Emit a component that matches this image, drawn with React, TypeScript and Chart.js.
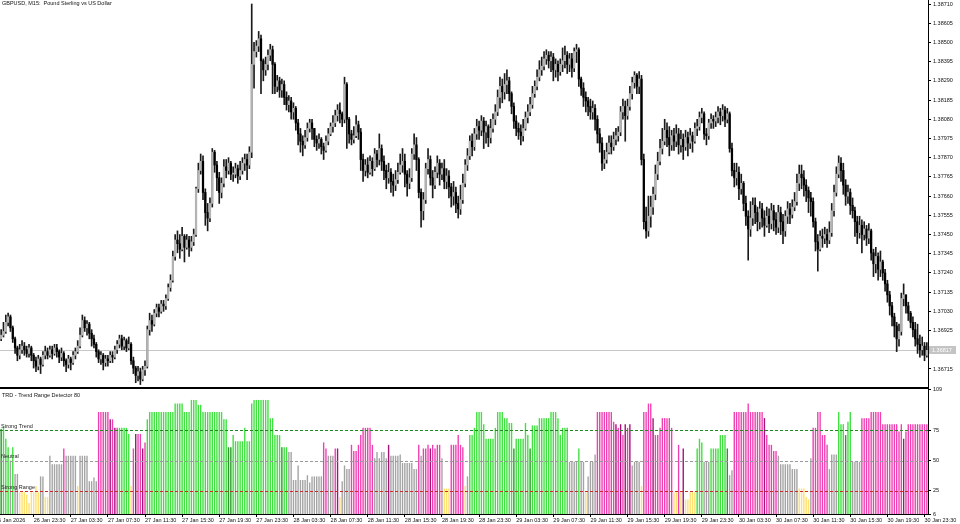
import React, { useEffect, useRef } from "react";
import { Chart, registerables } from "chart.js";

Chart.register(...registerables);

// ---------- DATA ----------
const SYMBOL_TITLE = "GBPUSD, M15:  Pound Sterling vs US Dollar";
const INDICATOR_TITLE = "TRD - Trend Range Detector 80";

const FIRST_OPEN = 1.3688;

const CLOSE = [
  1.3690,1.3692,1.3697,1.3700,1.3694,1.3688,1.3683,1.3679,1.3682,1.3684,
  1.3682,1.3680,1.3683,1.3679,1.3676,1.3673,1.3677,1.3674,1.3679,1.3681,
  1.3679,1.3682,1.3680,1.3683,1.3681,1.3678,1.3680,1.3676,1.3674,1.3677,
  1.3675,1.3679,1.3681,1.3684,1.3690,1.3698,1.3694,1.3696,1.3691,1.3688,
  1.3685,1.3681,1.3677,1.3679,1.3675,1.3677,1.3676,1.3679,1.3678,1.3682,
  1.3685,1.3688,1.3684,1.3687,1.3683,1.3685,1.3676,1.3672,1.3668,1.3670,
  1.3666,1.3671,1.3673,1.3693,1.3698,1.3696,1.3702,1.3705,1.3703,1.3707,
  1.3706,1.3710,1.3716,1.3720,1.3733,1.3742,1.3740,1.3737,1.3744,1.3738,
  1.3742,1.3738,1.3741,1.3745,1.3770,1.3780,1.3785,1.3768,1.3757,1.3754,
  1.3762,1.3790,1.3783,1.3776,1.3768,1.3773,1.3782,1.3780,1.3784,1.3778,
  1.3778,1.3781,1.3777,1.3780,1.3784,1.3786,1.3783,1.3790,1.3838,1.3845,
  1.3848,1.3852,1.3840,1.3835,1.3838,1.3843,1.3846,1.3838,1.3826,1.3829,
  1.3824,1.3827,1.3820,1.3816,1.3818,1.3812,1.3814,1.3806,1.3800,1.3796,
  1.3794,1.3798,1.3803,1.3806,1.3803,1.3797,1.3795,1.3797,1.3793,1.3791,
  1.3796,1.3800,1.3804,1.3806,1.3810,1.3813,1.3811,1.3808,1.3827,1.3808,
  1.3800,1.3797,1.3799,1.3805,1.3801,1.3786,1.3780,1.3783,1.3779,1.3785,
  1.3781,1.3789,1.3786,1.3792,1.3785,1.3780,1.3776,1.3779,1.3774,1.3772,
  1.3775,1.3779,1.3783,1.3785,1.3778,1.3773,1.3776,1.3789,1.3794,1.3786,
  1.3768,1.3758,1.3764,1.3781,1.3786,1.3776,1.3772,1.3779,1.3784,1.3778,
  1.3781,1.3774,1.3777,1.3771,1.3766,1.3768,1.3762,1.3759,1.3764,1.3773,
  1.3783,1.3788,1.3796,1.3793,1.3800,1.3804,1.3802,1.3807,1.3801,1.3804,
  1.3798,1.3803,1.3808,1.3812,1.3820,1.3826,1.3823,1.3827,1.3829,1.3822,
  1.3815,1.3807,1.3803,1.3801,1.3799,1.3803,1.3809,1.3812,1.3816,1.3822,
  1.3826,1.3831,1.3835,1.3837,1.3841,1.3843,1.3840,1.3842,1.3835,1.3838,
  1.3834,1.3838,1.3840,1.3843,1.3838,1.3841,1.3836,1.3845,1.3846,1.3830,
  1.3825,1.3820,1.3818,1.3815,1.3812,1.3814,1.3808,1.3800,1.3795,1.3784,
  1.3786,1.3790,1.3795,1.3793,1.3797,1.3799,1.3801,1.3812,1.3815,1.3810,
  1.3815,1.3822,1.3828,1.3832,1.3826,1.3830,1.3786,1.3752,1.3747,1.3755,
  1.3760,1.3767,1.3778,1.3785,1.3792,1.3796,1.3802,1.3798,1.3794,1.3799,
  1.3796,1.3800,1.3794,1.3797,1.3793,1.3798,1.3795,1.3799,1.3796,1.3803,
  1.3804,1.3809,1.3811,1.3800,1.3799,1.3806,1.3808,1.3807,1.3809,1.3812,
  1.3810,1.3813,1.3808,1.3811,1.3792,1.3780,1.3776,1.3779,1.3770,1.3773,
  1.3762,1.3755,1.3748,1.3754,1.3761,1.3757,1.3752,1.3759,1.3754,1.3750,
  1.3755,1.3751,1.3758,1.3753,1.3749,1.3757,1.3752,1.3747,1.3755,1.3759,
  1.3756,1.3760,1.3763,1.3773,1.3778,1.3776,1.3772,1.3769,1.3765,1.3763,
  1.3752,1.3741,1.3737,1.3744,1.3743,1.3745,1.3742,1.3746,1.3758,1.3768,
  1.3778,1.3784,1.3780,1.3772,1.3766,1.3768,1.3761,1.3758,1.3752,1.3746,
  1.3750,1.3745,1.3748,1.3743,1.3747,1.3735,1.3729,1.3733,1.3726,1.3730,
  1.3724,1.3718,1.3712,1.3706,1.3700,1.3695,1.3688,1.3692,1.3710,1.3712,
  1.3706,1.3702,1.3697,1.3693,1.3688,1.3685,1.3682,1.3684,1.3679,1.36817,
];

const HIGH = [
  1.3693,1.3697,1.3701,1.3702,1.3701,1.3695,1.3689,1.3684,1.3685,1.3687,
  1.3686,1.3684,1.3685,1.3684,1.3680,1.3678,1.3679,1.3678,1.3681,1.3684,
  1.3683,1.3684,1.3684,1.3685,1.3685,1.3682,1.3683,1.3681,1.3677,1.3679,
  1.3678,1.3681,1.3683,1.3687,1.3694,1.3701,1.3700,1.3698,1.3697,1.3693,
  1.3690,1.3686,1.3682,1.3681,1.3680,1.3679,1.3679,1.3681,1.3681,1.3684,
  1.3687,1.3690,1.3690,1.3689,1.3688,1.3689,1.3686,1.3678,1.3673,1.3673,
  1.3672,1.3673,1.3676,1.3695,1.3702,1.3701,1.3704,1.3707,1.3707,1.3709,
  1.3709,1.3712,1.3718,1.3723,1.3736,1.3745,1.3747,1.3745,1.3749,1.3745,
  1.3745,1.3744,1.3744,1.3748,1.3771,1.3784,1.3789,1.3788,1.3770,1.3762,
  1.3765,1.3792,1.3791,1.3785,1.3779,1.3776,1.3786,1.3786,1.3787,1.3785,
  1.3782,1.3784,1.3783,1.3785,1.3787,1.3789,1.3789,1.3793,1.3871,1.3850,
  1.3851,1.3856,1.3854,1.3841,1.3842,1.3846,1.3849,1.3848,1.3839,1.3832,
  1.3831,1.3830,1.3829,1.3823,1.3821,1.3820,1.3817,1.3815,1.3808,1.3803,
  1.3799,1.3802,1.3806,1.3808,1.3808,1.3803,1.3799,1.3800,1.3798,1.3795,
  1.3799,1.3803,1.3806,1.3810,1.3813,1.3816,1.3817,1.3812,1.3831,1.3828,
  1.3809,1.3802,1.3804,1.3810,1.3807,1.3803,1.3789,1.3786,1.3787,1.3788,
  1.3787,1.3792,1.3791,1.3800,1.3794,1.3788,1.3783,1.3784,1.3781,1.3778,
  1.3780,1.3784,1.3789,1.3792,1.3789,1.3780,1.3781,1.3792,1.3800,1.3798,
  1.3787,1.3770,1.3768,1.3784,1.3792,1.3788,1.3780,1.3782,1.3788,1.3786,
  1.3784,1.3786,1.3781,1.3780,1.3773,1.3774,1.3771,1.3766,1.3772,1.3778,
  1.3786,1.3792,1.3799,1.3800,1.3803,1.3808,1.3807,1.3810,1.3809,1.3807,
  1.3805,1.3808,1.3811,1.3816,1.3824,1.3831,1.3830,1.3833,1.3835,1.3831,
  1.3823,1.3817,1.3810,1.3806,1.3805,1.3808,1.3812,1.3816,1.3820,1.3826,
  1.3829,1.3835,1.3840,1.3842,1.3845,1.3846,1.3845,1.3845,1.3844,1.3841,
  1.3840,1.3841,1.3847,1.3848,1.3845,1.3844,1.3844,1.3847,1.3849,1.3847,
  1.3831,1.3828,1.3823,1.3820,1.3819,1.3818,1.3816,1.3810,1.3803,1.3798,
  1.3791,1.3795,1.3799,1.3799,1.3801,1.3803,1.3804,1.3815,1.3819,1.3818,
  1.3819,1.3826,1.3831,1.3834,1.3833,1.3834,1.3832,1.3789,1.3760,1.3766,
  1.3766,1.3771,1.3783,1.3790,1.3797,1.3803,1.3808,1.3806,1.3804,1.3802,
  1.3803,1.3805,1.3803,1.3802,1.3800,1.3802,1.3801,1.3803,1.3801,1.3806,
  1.3808,1.3812,1.3814,1.3812,1.3803,1.3808,1.3811,1.3810,1.3812,1.3815,
  1.3814,1.3816,1.3815,1.3814,1.3812,1.3795,1.3784,1.3784,1.3782,1.3778,
  1.3774,1.3766,1.3758,1.3763,1.3765,1.3765,1.3760,1.3763,1.3762,1.3758,
  1.3760,1.3759,1.3762,1.3761,1.3757,1.3761,1.3760,1.3756,1.3758,1.3763,
  1.3762,1.3764,1.3768,1.3778,1.3783,1.3783,1.3780,1.3775,1.3771,1.3768,
  1.3765,1.3754,1.3745,1.3747,1.3748,1.3749,1.3748,1.3752,1.3762,1.3772,
  1.3782,1.3788,1.3787,1.3784,1.3775,1.3772,1.3770,1.3765,1.3760,1.3755,
  1.3755,1.3753,1.3752,1.3750,1.3751,1.3748,1.3737,1.3738,1.3735,1.3736,
  1.3731,1.3726,1.3720,1.3714,1.3708,1.3702,1.3697,1.3696,1.3713,1.3718,
  1.3712,1.3708,1.3703,1.3700,1.3697,1.3696,1.3690,1.3689,1.3686,1.3686,
];

const LOW = [
  1.3687,1.3689,1.3691,1.3695,1.3692,1.3686,1.3680,1.3676,1.3677,1.3680,
  1.3679,1.3678,1.3678,1.3676,1.3672,1.3670,1.3671,1.3669,1.3673,1.3677,
  1.3677,1.3678,1.3677,1.3679,1.3678,1.3675,1.3676,1.3673,1.3670,1.3672,
  1.3671,1.3674,1.3677,1.3680,1.3683,1.3689,1.3692,1.3690,1.3688,1.3684,
  1.3683,1.3678,1.3675,1.3674,1.3671,1.3673,1.3673,1.3675,1.3675,1.3677,
  1.3680,1.3683,1.3682,1.3682,1.3681,1.3682,1.3674,1.3669,1.3664,1.3665,
  1.3663,1.3665,1.3668,1.3672,1.3690,1.3692,1.3695,1.3700,1.3700,1.3702,
  1.3703,1.3704,1.3709,1.3714,1.3719,1.3731,1.3735,1.3732,1.3736,1.3730,
  1.3737,1.3733,1.3736,1.3739,1.3744,1.3768,1.3778,1.3764,1.3750,1.3747,
  1.3752,1.3760,1.3779,1.3769,1.3762,1.3765,1.3771,1.3776,1.3778,1.3775,
  1.3774,1.3776,1.3773,1.3775,1.3778,1.3780,1.3775,1.3781,1.3787,1.3825,
  1.3842,1.3845,1.3822,1.3829,1.3832,1.3835,1.3840,1.3822,1.3822,1.3823,
  1.3820,1.3820,1.3816,1.3813,1.3812,1.3808,1.3808,1.3802,1.3794,1.3790,
  1.3788,1.3792,1.3796,1.3801,1.3797,1.3793,1.3791,1.3792,1.3789,1.3786,
  1.3790,1.3794,1.3799,1.3801,1.3804,1.3807,1.3806,1.3804,1.3806,1.3792,
  1.3795,1.3794,1.3795,1.3798,1.3797,1.3780,1.3774,1.3777,1.3776,1.3778,
  1.3777,1.3780,1.3782,1.3783,1.3780,1.3775,1.3770,1.3773,1.3768,1.3766,
  1.3769,1.3773,1.3778,1.3779,1.3771,1.3766,1.3770,1.3774,1.3786,1.3780,
  1.3765,1.3749,1.3753,1.3762,1.3778,1.3772,1.3765,1.3770,1.3776,1.3772,
  1.3775,1.3770,1.3770,1.3765,1.3760,1.3761,1.3757,1.3754,1.3756,1.3762,
  1.3771,1.3780,1.3786,1.3788,1.3791,1.3797,1.3797,1.3799,1.3792,1.3795,
  1.3793,1.3795,1.3801,1.3805,1.3810,1.3814,1.3817,1.3819,1.3822,1.3818,
  1.3811,1.3803,1.3799,1.3797,1.3794,1.3796,1.3802,1.3806,1.3810,1.3814,
  1.3820,1.3824,1.3829,1.3832,1.3835,1.3838,1.3836,1.3834,1.3829,1.3831,
  1.3829,1.3832,1.3834,1.3836,1.3833,1.3834,1.3831,1.3834,1.3839,1.3826,
  1.3821,1.3815,1.3812,1.3810,1.3808,1.3808,1.3802,1.3795,1.3790,1.3780,
  1.3781,1.3784,1.3789,1.3789,1.3791,1.3794,1.3796,1.3799,1.3808,1.3796,
  1.3808,1.3813,1.3819,1.3825,1.3822,1.3822,1.3783,1.3748,1.3743,1.3744,
  1.3749,1.3756,1.3764,1.3775,1.3783,1.3789,1.3794,1.3793,1.3788,1.3791,
  1.3791,1.3793,1.3789,1.3790,1.3786,1.3791,1.3788,1.3792,1.3790,1.3795,
  1.3799,1.3802,1.3806,1.3797,1.3794,1.3797,1.3803,1.3803,1.3804,1.3806,
  1.3805,1.3807,1.3804,1.3806,1.3790,1.3777,1.3771,1.3772,1.3764,1.3767,
  1.3758,1.3750,1.3731,1.3744,1.3750,1.3751,1.3747,1.3748,1.3749,1.3744,
  1.3749,1.3746,1.3748,1.3747,1.3745,1.3746,1.3745,1.3740,1.3744,1.3751,
  1.3751,1.3754,1.3758,1.3761,1.3769,1.3770,1.3766,1.3763,1.3757,1.3755,
  1.3749,1.3736,1.3725,1.3736,1.3738,1.3740,1.3738,1.3740,1.3744,1.3755,
  1.3766,1.3776,1.3774,1.3767,1.3761,1.3762,1.3756,1.3754,1.3744,1.3740,
  1.3743,1.3735,1.3742,1.3739,1.3740,1.3731,1.3722,1.3724,1.3720,1.3722,
  1.3720,1.3714,1.3708,1.3701,1.3695,1.3689,1.3681,1.3684,1.3690,1.3706,
  1.3702,1.3698,1.3694,1.3689,1.3684,1.3680,1.3678,1.3679,1.3676,1.3678,
];

const TRD_VALUE = [
  76,78,68,61,50,61,39,39,24,24, 24,22,15,24,24,29,24,37,37,20,
  20,54,47,47,47,47,47,60,54,54, 54,54,54,29,54,54,54,54,33,33,
  36,33,90,90,90,90,90,84,84,77, 77,77,77,77,77,72,29,60,72,72,
  72,60,65,84,90,90,90,90,90,90, 90,90,90,90,90,97,97,97,97,90,
  90,90,100,100,100,96,96,90,90,90, 90,90,90,90,90,90,84,84,61,61,
  71,66,66,66,66,77,66,66,97,100, 100,100,100,100,100,100,85,85,71,71,
  71,61,61,61,57,57,34,34,46,34, 34,34,38,32,37,37,37,37,37,65,
  60,54,54,54,60,60,20,33,46,43, 43,63,58,58,63,71,77,77,77,77,
  63,52,57,52,57,57,52,63,54,54, 54,54,55,48,48,48,48,48,43,43,
  63,54,60,60,63,60,63,60,63,63, 52,27,27,27,63,63,63,71,63,61,
  29,37,71,71,77,90,90,90,80,68, 68,68,68,77,90,90,90,85,85,81,
  81,60,68,68,68,68,81,71,60,79, 79,79,85,85,85,85,85,90,90,90,
  85,71,77,77,77,49,49,49,49,60, 49,49,24,37,49,49,55,90,90,90,
  90,90,90,90,82,80,77,80,71,80, 77,80,46,49,49,49,29,90,90,97,
  97,85,71,71,77,85,85,85,85,77, 24,24,63,24,60,18,18,24,24,24,
  60,68,65,49,49,49,60,60,60,60, 71,71,71,60,38,42,90,90,90,90,
  90,90,97,90,90,90,90,90,90,85, 71,63,63,58,58,54,47,47,47,47,
  47,43,43,43,27,27,27,20,18,52, 77,77,90,90,71,71,63,43,55,55,
  55,90,80,80,71,82,90,49,49,49, 49,85,85,85,85,90,90,90,90,90,
  80,80,80,80,80,80,80,74,80,68, 74,80,80,80,80,80,80,80,80,80,
];

// G = trend up, g = trend up (weak), M = trend down, m = trend down (weak), N = neutral, Y = range
const TRD_STATE = (
  "gGGGNGNNYY" + "YYYYYYYNNY" + "YNNNNNNMNN" + "NNNYNNNNNN" +
  "NNMMMMMmMm" + "MGGGGGYMmM" + "MmMGGGGGGG" + "GGGGGGGGGG" +
  "GGGGGGGGGG" + "GGGGGGGGgg" + "GGGGGGGGGG" + "GGGGGGGGGG" +
  "GgGGNNNNNN" + "NNNNNNNNNM" + "MNNNMmYNNN" + "NMMMMMMMMM" +
  "MNNNNNNmNN" + "NNNNNNNNNN" + "MNMMMmMMMM" + "NYYYMMMMMM" +
  "YNGGGGGGGG" + "GGGGGGGGGG" + "GgGGGGGGgG" + "GGGGGGGGGG" +
  "GGGGGNNNNG" + "NNYNNNNMMM" + "MMMMMmMmMm" + "MmNNNNYMMM" +
  "MmMMMMMMMM" + "YYMYmYYYYY" + "GGGNNNGGGG" + "GGGgNNMMMM" +
  "MMMMMMMMMm" + "MMMMMNNNNN" + "NNNNYYYYYN" + "MMMMMMMNNN" +
  "NGGGgGGNNN" + "NMMMMMMMMM" + "MMMMMMMMMm" + "MMMMMMMMMM"
).split("");

const TIME_LABELS = [
  "26 Jan 2026", "26 Jan 23:30",
  "27 Jan 03:30", "27 Jan 07:30", "27 Jan 11:30", "27 Jan 15:30", "27 Jan 19:30", "27 Jan 23:30",
  "28 Jan 03:30", "28 Jan 07:30", "28 Jan 11:30", "28 Jan 15:30", "28 Jan 19:30", "28 Jan 23:30",
  "29 Jan 03:30", "29 Jan 07:30", "29 Jan 11:30", "29 Jan 15:30", "29 Jan 19:30", "29 Jan 23:30",
  "30 Jan 03:30", "30 Jan 07:30", "30 Jan 11:30", "30 Jan 15:30", "30 Jan 19:30", "30 Jan 23:30",
];

const FIRST_BAR_DAY = 26;
const FIRST_BAR_MINUTES = 20 * 60; // 26 Jan 20:00
const BAR_MINUTES = 15;

const PRICE_TICKS = [
  1.38710, 1.38605, 1.38500, 1.38395, 1.38290, 1.38185, 1.38080, 1.37975, 1.37870,
  1.37765, 1.37660, 1.37555, 1.37450, 1.37345, 1.37240, 1.37135, 1.37030, 1.36925, 1.36715,
];
const PRICE_MIN = 1.366166;
const PRICE_MAX = 1.387319;
const CURRENT_PRICE = 1.36817;

const TRD_TICKS = [6, 25, 50, 75, 109];
const TRD_MIN = 6;
const TRD_MAX = 109;
const LEVEL_VALUES = [75, 50, 25];
const LEVEL_NAMES = ["Strong Trend", "Neutral", "Strong Range"];

// ---------- STYLE ----------
const FONT_FAMILY = "'Liberation Sans', Arial, sans-serif";
const FONT_SIZE = 5.5;
const TEXT_COLOR = "#111";
const WICK_COLOR = "#1a1a1a";
const BULL_BODY = "#b4b4b4";
const BEAR_BODY = "#000000";
const STATE_COLOR: Record<string, string> = {
  G: "#40e040",
  g: "#2c962c",
  M: "#ef40b2",
  m: "#a3137a",
  N: "#a4a4a4",
  Y: "#ffe070",
};
const LEVEL_COLORS = ["#1f8a1f", "#9a9a9a", "#cc2a2a"];

// ---------- DERIVED TABLES ----------
const OPEN = CLOSE.map((_, i) => (i === 0 ? FIRST_OPEN : CLOSE[i - 1]));
const pad2 = (n: number) => (n < 10 ? "0" + n : "" + n);
const BAR_TIMES = CLOSE.map((_, i) => {
  const total = FIRST_BAR_MINUTES + i * BAR_MINUTES;
  const day = FIRST_BAR_DAY + Math.floor(total / 1440);
  const m = total % 1440;
  return `${day} Jan ${pad2(Math.floor(m / 60))}:${pad2(m % 60)}`;
});
// first label (date of the left-most bar) is drawn at the left edge by the plugin
const tickLabelFor = (i: number): string | null =>
  i > 0 && TIME_LABELS.indexOf(BAR_TIMES[i]) >= 0 ? BAR_TIMES[i] : null;

const fontStr = `${FONT_SIZE}px ${FONT_FAMILY}`;

const pricePlugin = {
  id: "priceDecor",
  beforeDatasetsDraw(chart: any) {
    const { ctx, chartArea } = chart;
    const y = Math.round(chart.scales.y.getPixelForValue(CURRENT_PRICE)) + 0.5;
    ctx.save();
    ctx.strokeStyle = "#c8c8c8";
    ctx.lineWidth = 1;
    ctx.beginPath();
    ctx.moveTo(chartArea.left, y);
    ctx.lineTo(chartArea.right, y);
    ctx.stroke();
    ctx.restore();
  },
  afterDraw(chart: any) {
    const { ctx, chartArea } = chart;
    ctx.save();
    ctx.font = fontStr;
    ctx.fillStyle = TEXT_COLOR;
    ctx.textBaseline = "top";
    ctx.textAlign = "left";
    ctx.fillText(SYMBOL_TITLE, 2, 1);
    const y = chart.scales.y.getPixelForValue(CURRENT_PRICE);
    ctx.fillStyle = "#c4c4c4";
    ctx.fillRect(chartArea.right + 1, Math.round(y) - 4, 27, 8);
    ctx.fillStyle = "#ffffff";
    ctx.textBaseline = "middle";
    ctx.fillText(CURRENT_PRICE.toFixed(5), chartArea.right + 4, y);
    ctx.restore();
  },
};

const trdPlugin = {
  id: "trdDecor",
  afterDatasetsDraw(chart: any) {
    const { ctx, chartArea } = chart;
    const ys = chart.scales.y;
    ctx.save();
    LEVEL_VALUES.forEach((v, k) => {
      const y = Math.round(ys.getPixelForValue(v)) + 0.5;
      ctx.strokeStyle = LEVEL_COLORS[k];
      ctx.lineWidth = 1;
      ctx.setLineDash([3, 2]);
      ctx.beginPath();
      ctx.moveTo(chartArea.left, y);
      ctx.lineTo(chartArea.right, y);
      ctx.stroke();
    });
    ctx.setLineDash([]);
    ctx.font = fontStr;
    ctx.fillStyle = "#222";
    ctx.textAlign = "left";
    ctx.textBaseline = "bottom";
    LEVEL_VALUES.forEach((v, k) => {
      const y = ys.getPixelForValue(v);
      ctx.fillText(LEVEL_NAMES[k], 1, y - 1);
    });
    ctx.textBaseline = "middle";
    ctx.fillStyle = TEXT_COLOR;
    ctx.fillText(INDICATOR_TITLE, 2, 8);
    ctx.restore();
  },
  afterDraw(chart: any) {
    const { ctx, chartArea } = chart;
    ctx.save();
    ctx.fillStyle = "#000";
    ctx.fillRect(0, 0, chartArea.right + 1, 2);
    // left-most date label, partly cut at the left edge as in the terminal
    ctx.font = fontStr;
    ctx.fillStyle = TEXT_COLOR;
    ctx.textAlign = "left";
    ctx.textBaseline = "middle";
    ctx.fillText(TIME_LABELS[0], -5, chartArea.bottom + 6);
    ctx.restore();
  },
};

export default function App() {
  const priceRef = useRef<HTMLCanvasElement>(null);
  const trdRef = useRef<HTMLCanvasElement>(null);

  useEffect(() => {
    const tickFont = { family: FONT_FAMILY, size: FONT_SIZE };

    const priceChart = new Chart(priceRef.current as HTMLCanvasElement, {
      type: "bar",
      data: {
        labels: BAR_TIMES,
        datasets: [
          {
            label: "wick",
            data: LOW.map((l, i) => [l, HIGH[i]]) as any,
            backgroundColor: WICK_COLOR,
            barThickness: 1,
            grouped: false,
            order: 2,
          } as any,
          {
            label: "body",
            data: CLOSE.map((c, i) => [OPEN[i], c]) as any,
            backgroundColor: CLOSE.map((c, i) => (c >= OPEN[i] ? BULL_BODY : BEAR_BODY)),
            barThickness: 1.6,
            grouped: false,
            minBarLength: 1,
            order: 1,
          } as any,
        ],
      },
      options: {
        responsive: false,
        maintainAspectRatio: false,
        animation: false,
        devicePixelRatio: 1,
        events: [],
        layout: { padding: 0 },
        plugins: { legend: { display: false }, tooltip: { enabled: false } },
        scales: {
          x: { display: false, offset: true },
          y: {
            position: "right",
            min: PRICE_MIN,
            max: PRICE_MAX,
            afterFit: (s: any) => {
              s.width = 32;
              s.paddingTop = 0;
              s.paddingBottom = 0;
            },
            afterBuildTicks: (s: any) => {
              s.ticks = PRICE_TICKS.map((v) => ({ value: v }));
            },
            grid: { drawOnChartArea: false, drawTicks: true, tickLength: 3, color: "#000" },
            border: { display: true, color: "#000", width: 1 },
            ticks: {
              font: tickFont,
              color: TEXT_COLOR,
              padding: 2,
              callback: (v: any) => Number(v).toFixed(5),
            },
          } as any,
        },
      },
      plugins: [pricePlugin],
    });

    const trdChart = new Chart(trdRef.current as HTMLCanvasElement, {
      type: "bar",
      data: {
        labels: BAR_TIMES,
        datasets: [
          {
            label: "TRD",
            data: TRD_VALUE,
            backgroundColor: TRD_STATE.map((s) => STATE_COLOR[s]),
            barPercentage: 0.6,
            categoryPercentage: 1,
            borderWidth: 0,
          },
        ],
      },
      options: {
        responsive: false,
        maintainAspectRatio: false,
        animation: false,
        devicePixelRatio: 1,
        events: [],
        layout: { padding: { top: 2, left: 0, right: 0, bottom: 0 } },
        plugins: { legend: { display: false }, tooltip: { enabled: false } },
        scales: {
          x: {
            offset: true,
            afterFit: (s: any) => {
              s.height = 10;
              s.paddingLeft = 0;
              s.paddingRight = 0;
            },
            grid: { display: true, drawOnChartArea: false, drawTicks: true, tickLength: 3, color: "#000", offset: false },
            border: { display: true, color: "#000", width: 1 },
            ticks: {
              autoSkip: false,
              maxRotation: 0,
              minRotation: 0,
              align: "start",
              padding: 0,
              font: tickFont,
              color: TEXT_COLOR,
              callback: (_v: any, i: number) => tickLabelFor(i),
            },
          } as any,
          y: {
            position: "right",
            min: TRD_MIN,
            max: TRD_MAX,
            afterFit: (s: any) => {
              s.width = 32;
              s.paddingTop = 0;
              s.paddingBottom = 0;
            },
            afterBuildTicks: (s: any) => {
              s.ticks = TRD_TICKS.map((v) => ({ value: v }));
            },
            grid: { drawOnChartArea: false, drawTicks: true, tickLength: 3, color: "#000" },
            border: { display: true, color: "#000", width: 1 },
            ticks: { font: tickFont, color: TEXT_COLOR, padding: 2 },
          } as any,
        },
      },
      plugins: [trdPlugin],
    });

    return () => {
      priceChart.destroy();
      trdChart.destroy();
    };
  }, []);

  return (
    <div
      style={{
        position: "absolute",
        left: 0,
        top: 0,
        width: 960,
        height: 524,
        background: "#fff",
        overflow: "hidden",
      }}
    >
      <canvas
        ref={priceRef}
        width={960}
        height={387}
        style={{ position: "absolute", left: 0, top: 0, width: 960, height: 387 }}
      />
      <canvas
        ref={trdRef}
        width={960}
        height={137}
        style={{ position: "absolute", left: 0, top: 387, width: 960, height: 137 }}
      />
    </div>
  );
}
